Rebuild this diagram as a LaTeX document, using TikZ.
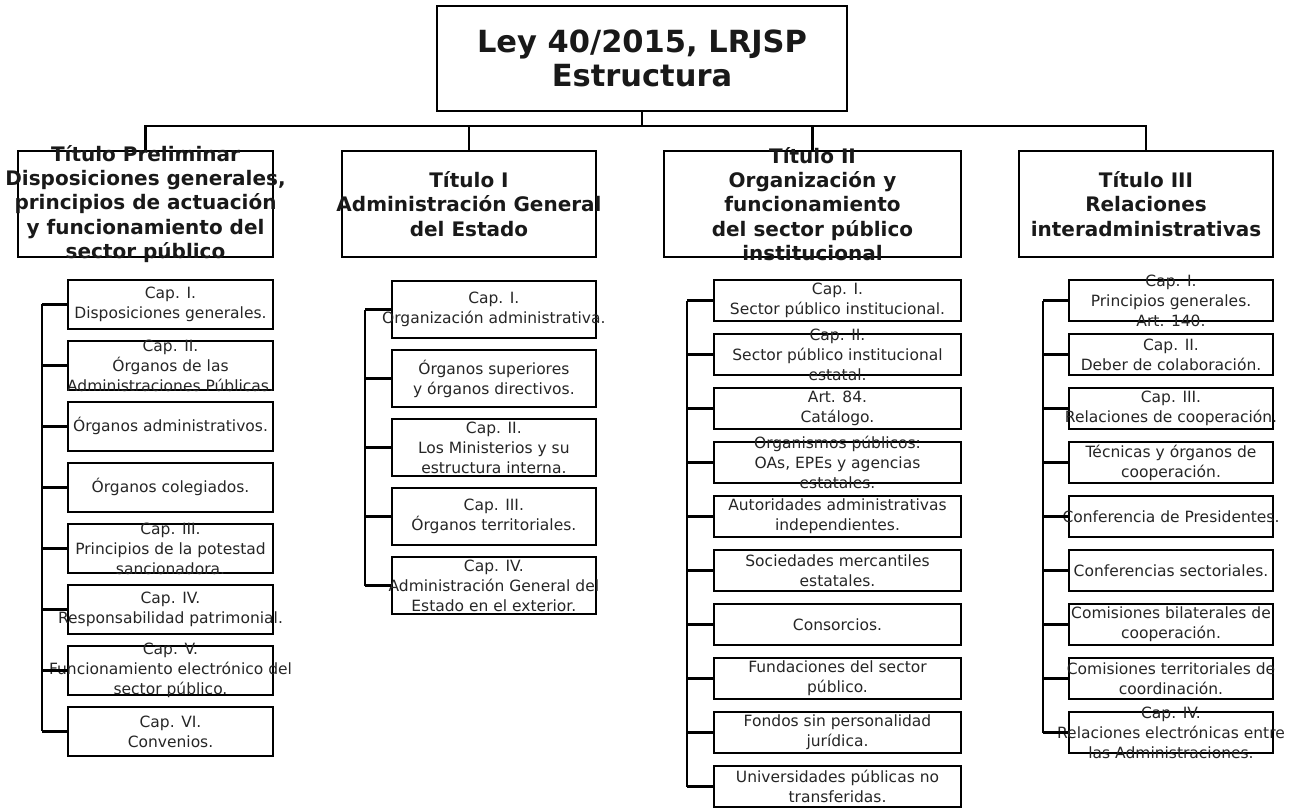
\documentclass[tikz,border=0pt]{standalone}
\usepackage{fontspec}
\setmainfont{DejaVu Sans}
\begin{document}
\begin{tikzpicture}[x=1pt,y=-1pt,
  frame/.style={draw=black, line width=2.4pt, fill=white, inner sep=0pt},
  ttl/.style={inner sep=0pt, align=center, text=black!90, font=\fontsize{30.5}{34}\selectfont\bfseries},
  htxt/.style={inner sep=0pt, align=center, text=black!90, font=\fontsize{20}{24.4}\selectfont\bfseries},
  stxt/.style={inner sep=0pt, align=center, text=black!85, font=\fontsize{15.5}{20}\selectfont},
  head/.style={frame, minimum height=106pt},
  subA/.style={frame, minimum width=205pt, minimum height=48.7pt},
  subB/.style={frame, minimum width=204.3pt, minimum height=57pt},
  subC/.style={frame, minimum width=247pt, minimum height=41pt},
  subD/.style={frame, minimum width=204pt, minimum height=41pt},
  conn/.style={draw=black, line width=2.4pt}
]
\useasboundingbox (0,0) rectangle (1293,807);

% title
\node[frame, minimum width=410pt, minimum height=105pt,
  label={[ttl]center:{Ley 40/2015, LRJSP\\Estructura}}] (title) at (642,58.5) {};

% level 1
\node[head, minimum width=255pt, label={[htxt]center:{Título Preliminar\\Disposiciones generales,\\principios de actuación\\y funcionamiento del\\sector público}}] (tA) at (145.5,204) {};
\node[head, minimum width=254.5pt, label={[htxt]center:{Título I\\Administración General\\del Estado}}] (tB) at (469,204) {};
\node[head, minimum width=297pt, label={[htxt]center:{Título II\\Organización y\\funcionamiento\\del sector público\\institucional}}] (tC) at (812.5,204) {};
\node[head, minimum width=254pt, label={[htxt]center:{Título III\\Relaciones\\interadministrativas}}] (tD) at (1146,204) {};

\coordinate (bus) at (642,125.7);
\foreach \t in {tA,tB,tC,tD}
  \draw[conn] (title.south) -- (title.south |- bus) -| (\t.north);

% column A
\node[subA, label={[stxt]center:{Cap. I.\\Disposiciones generales.}}] (a1) at (170.5,304.35) {};
\node[subA, label={[stxt]center:{Cap. II.\\Órganos de las\\Administraciones Públicas.}}] (a2) at (170.5,365.35) {};
\node[subA, label={[stxt]center:{Órganos administrativos.}}] (a3) at (170.5,426.35) {};
\node[subA, label={[stxt]center:{Órganos colegiados.}}] (a4) at (170.5,487.35) {};
\node[subA, label={[stxt]center:{Cap. III.\\Principios de la potestad\\sancionadora.}}] (a5) at (170.5,548.35) {};
\node[subA, label={[stxt]center:{Cap. IV.\\Responsabilidad patrimonial.}}] (a6) at (170.5,609.35) {};
\node[subA, label={[stxt]center:{Cap. V.\\Funcionamiento electrónico del\\sector público.}}] (a7) at (170.5,670.35) {};
\node[subA, label={[stxt]center:{Cap. VI.\\Convenios.}}] (a8) at (170.5,731.35) {};
\coordinate (spA) at (42,0);
\draw[conn] (spA |- a1.west) -- (spA |- a8.west);
\foreach \n in {a1,a2,a3,a4,a5,a6,a7,a8}
  \draw[conn] (spA |- \n.west) -- (\n.west);

% column B
\node[subB, label={[stxt]center:{Cap. I.\\Organización administrativa.}}] (b1) at (493.85,309.5) {};
\node[subB, label={[stxt]center:{Órganos superiores\\y órganos directivos.}}] (b2) at (493.85,378.5) {};
\node[subB, label={[stxt]center:{Cap. II.\\Los Ministerios y su\\estructura interna.}}] (b3) at (493.85,447.5) {};
\node[subB, label={[stxt]center:{Cap. III.\\Órganos territoriales.}}] (b4) at (493.85,516.5) {};
\node[subB, label={[stxt]center:{Cap. IV.\\Administración General del\\Estado en el exterior.}}] (b5) at (493.85,585.5) {};
\coordinate (spB) at (365,0);
\draw[conn] (spB |- b1.west) -- (spB |- b5.west);
\foreach \n in {b1,b2,b3,b4,b5}
  \draw[conn] (spB |- \n.west) -- (\n.west);

% column C
\node[subC, label={[stxt]center:{Cap. I.\\Sector público institucional.}}] (c1) at (837.5,300.5) {};
\node[subC, label={[stxt]center:{Cap. II.\\Sector público institucional\\estatal.}}] (c2) at (837.5,354.5) {};
\node[subC, label={[stxt]center:{Art. 84.\\Catálogo.}}] (c3) at (837.5,408.5) {};
\node[subC, label={[stxt]center:{Organismos públicos:\\OAs, EPEs y agencias\\estatales.}}] (c4) at (837.5,462.5) {};
\node[subC, label={[stxt]center:{Autoridades administrativas\\independientes.}}] (c5) at (837.5,516.5) {};
\node[subC, label={[stxt]center:{Sociedades mercantiles\\estatales.}}] (c6) at (837.5,570.5) {};
\node[subC, label={[stxt]center:{Consorcios.}}] (c7) at (837.5,624.5) {};
\node[subC, label={[stxt]center:{Fundaciones del sector\\público.}}] (c8) at (837.5,678.5) {};
\node[subC, label={[stxt]center:{Fondos sin personalidad\\jurídica.}}] (c9) at (837.5,732.5) {};
\node[subC, label={[stxt]center:{Universidades públicas no\\transferidas.}}] (c10) at (837.5,786.5) {};
\coordinate (spC) at (687,0);
\draw[conn] (spC |- c1.west) -- (spC |- c10.west);
\foreach \n in {c1,c2,c3,c4,c5,c6,c7,c8,c9,c10}
  \draw[conn] (spC |- \n.west) -- (\n.west);

% column D
\node[subD, label={[stxt]center:{Cap. I.\\Principios generales.\\Art. 140.}}] (d1) at (1171,300.5) {};
\node[subD, label={[stxt]center:{Cap. II.\\Deber de colaboración.}}] (d2) at (1171,354.5) {};
\node[subD, label={[stxt]center:{Cap. III.\\Relaciones de cooperación.}}] (d3) at (1171,408.5) {};
\node[subD, label={[stxt]center:{Técnicas y órganos de\\cooperación.}}] (d4) at (1171,462.5) {};
\node[subD, label={[stxt]center:{Conferencia de Presidentes.}}] (d5) at (1171,516.5) {};
\node[subD, label={[stxt]center:{Conferencias sectoriales.}}] (d6) at (1171,570.5) {};
\node[subD, label={[stxt]center:{Comisiones bilaterales de\\cooperación.}}] (d7) at (1171,624.5) {};
\node[subD, label={[stxt]center:{Comisiones territoriales de\\coordinación.}}] (d8) at (1171,678.5) {};
\node[subD, label={[stxt]center:{Cap. IV.\\Relaciones electrónicas entre\\las Administraciones.}}] (d9) at (1171,732.5) {};
\coordinate (spD) at (1043,0);
\draw[conn] (spD |- d1.west) -- (spD |- d9.west);
\foreach \n in {d1,d2,d3,d4,d5,d6,d7,d8,d9}
  \draw[conn] (spD |- \n.west) -- (\n.west);
\end{tikzpicture}
\end{document}
